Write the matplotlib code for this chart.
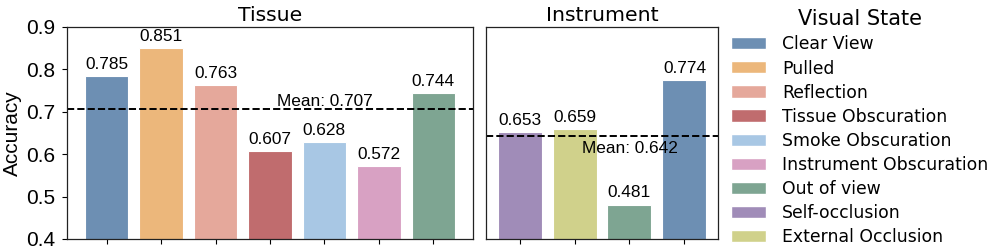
import matplotlib
matplotlib.use("Agg")
import matplotlib.pyplot as plt
from matplotlib.patches import Patch

plt.rcParams['font.family'] = ['Liberation Sans', 'DejaVu Sans']

tissue_labels = ["Clear View", "Pulled", "Reflection", "Tissue Obscuration",
                 "Smoke Obscuration", "Instrument Obscuration", "Out of view"]
tissue_values = [0.785, 0.851, 0.763, 0.607, 0.628, 0.572, 0.744]
instr_labels = ["Self-occlusion", "External Occlusion", "Out of view", "Clear View"]
instr_values = [0.653, 0.659, 0.481, 0.774]
tissue_mean = 0.707
instr_mean = 0.642
legend_labels = ["Clear View", "Pulled", "Reflection", "Tissue Obscuration",
                 "Smoke Obscuration", "Instrument Obscuration", "Out of view",
                 "Self-occlusion", "External Occlusion"]
colors = {
    "Clear View": "#6D8FB3",
    "Pulled": "#ECB77B",
    "Reflection": "#E5A89B",
    "Tissue Obscuration": "#C06C6E",
    "Smoke Obscuration": "#A8C7E4",
    "Instrument Obscuration": "#D8A1C3",
    "Out of view": "#7EA592",
    "Self-occlusion": "#A08CB8",
    "External Occlusion": "#D0D18B",
}

W, H = 997, 249
fig = plt.figure(figsize=(W / 100, H / 100), dpi=100)

def px_axes(x0, y0, x1, y1):
    return fig.add_axes([x0 / W, 1 - y1 / H, (x1 - x0) / W, (y1 - y0) / H])

ax1 = px_axes(67, 27, 473, 239)
ax2 = px_axes(486, 27, 718, 239)

def draw(ax, labels, values, mean, title, text_x, above):
    x = list(range(len(values)))
    ax.bar(x, values, width=0.8, color=[colors[l] for l in labels],
           edgecolor='white', linewidth=0.8)
    for xi, v in zip(x, values):
        ax.annotate(f"{v:.3f}", (xi, v), xytext=(0, 3), textcoords='offset points',
                    ha='center', va='bottom', fontsize=12.4)
    ax.axhline(mean, color='black', linestyle='--', linewidth=1.4)
    if above:
        ax.text(text_x, mean, f"Mean: {mean:.3f}", ha='center', va='bottom', fontsize=12.4)
    else:
        ax.annotate(f"Mean: {mean:.3f}", (text_x, mean), xytext=(0, -3),
                    textcoords='offset points', ha='center', va='top', fontsize=12.4)
    ax.set_ylim(0.4, 0.9)
    ax.set_xticks(x)
    ax.set_xticklabels([])
    ax.set_title(title, fontsize=14.7, family='DejaVu Sans', pad=4.5)
    for s in ax.spines.values():
        s.set_color('#222222')
        s.set_linewidth(0.9)

draw(ax1, tissue_labels, tissue_values, tissue_mean, "Tissue", 4, True)
draw(ax2, instr_labels, instr_values, instr_mean, "Instrument", 2, False)
ax1.set_xlim(-0.73, 6.73)
ax2.set_xlim(-0.61, 3.61)
ax1.set_yticks([0.4, 0.5, 0.6, 0.7, 0.8, 0.9])
ax1.tick_params(axis='y', labelsize=15, pad=5)
ax1.set_ylabel("Accuracy", fontsize=15, labelpad=3)
ax2.set_yticks([])

handles = [Patch(facecolor=colors[l], edgecolor='white', label=l) for l in legend_labels]
leg = fig.legend(handles=handles, loc='upper left', bbox_to_anchor=(728 / W, 1 - 6 / H),
                 frameon=False, title="Visual State",
                 prop={'family': 'DejaVu Sans', 'size': 12.4},
                 title_fontproperties={'family': 'DejaVu Sans', 'size': 15},
                 labelspacing=0.35, borderaxespad=0, borderpad=0.2,
                 handletextpad=0.95)

fig.savefig("out.png", dpi=100)
